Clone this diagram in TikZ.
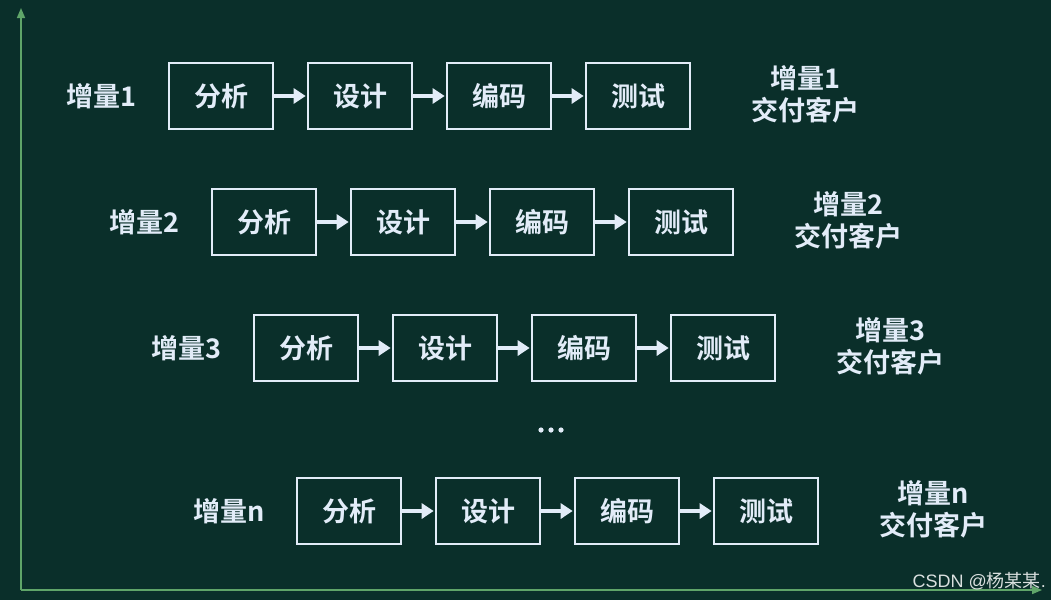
\documentclass[tikz,border=0pt]{standalone}
\usepackage{fontspec}
\newfontfamily\cjk{Noto Sans CJK SC}[BoldFont={* Bold}]
\usetikzlibrary{arrows.meta}
\definecolor{bg}{RGB}{10,47,42}
\definecolor{fg}{RGB}{226,236,248}
\definecolor{axis}{RGB}{95,165,105}
\tikzset{
  x=1pt,y=-1pt,
  stagebox/.style={draw=fg,line width=2.6pt,minimum width=104pt,minimum height=66pt,inner sep=0pt,text=fg,font=\cjk\bfseries\fontsize{27}{29}\selectfont},
  flow/.style={draw=fg,line width=4pt,-{Triangle[length=12pt,width=15pt]},shorten >=1pt},
  lbl/.style={text=fg,font=\cjk\bfseries\fontsize{27}{29}\selectfont,inner sep=0pt},
  rlbl/.style={text=fg,font=\cjk\bfseries\fontsize{27}{32}\selectfont,align=center,inner sep=0pt},
  axisline/.style={draw=axis,line width=1.6pt,-{Triangle[length=10pt,width=8pt]}}
}
\begin{document}
\begin{tikzpicture}
\fill[bg] (0,0) rectangle (1051,600);
\useasboundingbox (0,0) rectangle (1051,600);
\coordinate (O) at (21,590);
\coordinate (Ytop) at (21,8);
\coordinate (Xend) at (1042,590);
\draw[axisline] (O) -- (Ytop);
\draw[axisline] (O) -- (Xend);
% rows
\foreach \r/\dx/\y/\lab in {1/0/96/1, 2/43/222/2, 3/85/348/3, 4/128/511/n}{
  \node[lbl] (L\r) at (101+\dx,\y) {增量\lab};
  \node[stagebox] (A\r) at (221+\dx,\y) {分析};
  \node[stagebox] (B\r) at (360+\dx,\y) {设计};
  \node[stagebox] (C\r) at (499+\dx,\y) {编码};
  \node[stagebox] (D\r) at (638+\dx,\y) {测试};
  \node[rlbl] (R\r) at (805+\dx,\y-2) {增量\lab\\交付客户};
  \draw[flow] (A\r) -- (B\r);
  \draw[flow] (B\r) -- (C\r);
  \draw[flow] (C\r) -- (D\r);
}
\foreach \i/\xx in {1/541,2/551,3/561}{
  \fill[fg] (\xx,430) circle (2.6pt);
}
\node[text=white!85!bg,font=\fontspec{Liberation Sans}\fontsize{18}{18}\selectfont,inner sep=0pt,anchor=east] (wm) at (1046,581) {CSDN @{\cjk 杨某某}.};
\end{tikzpicture}
\end{document}
